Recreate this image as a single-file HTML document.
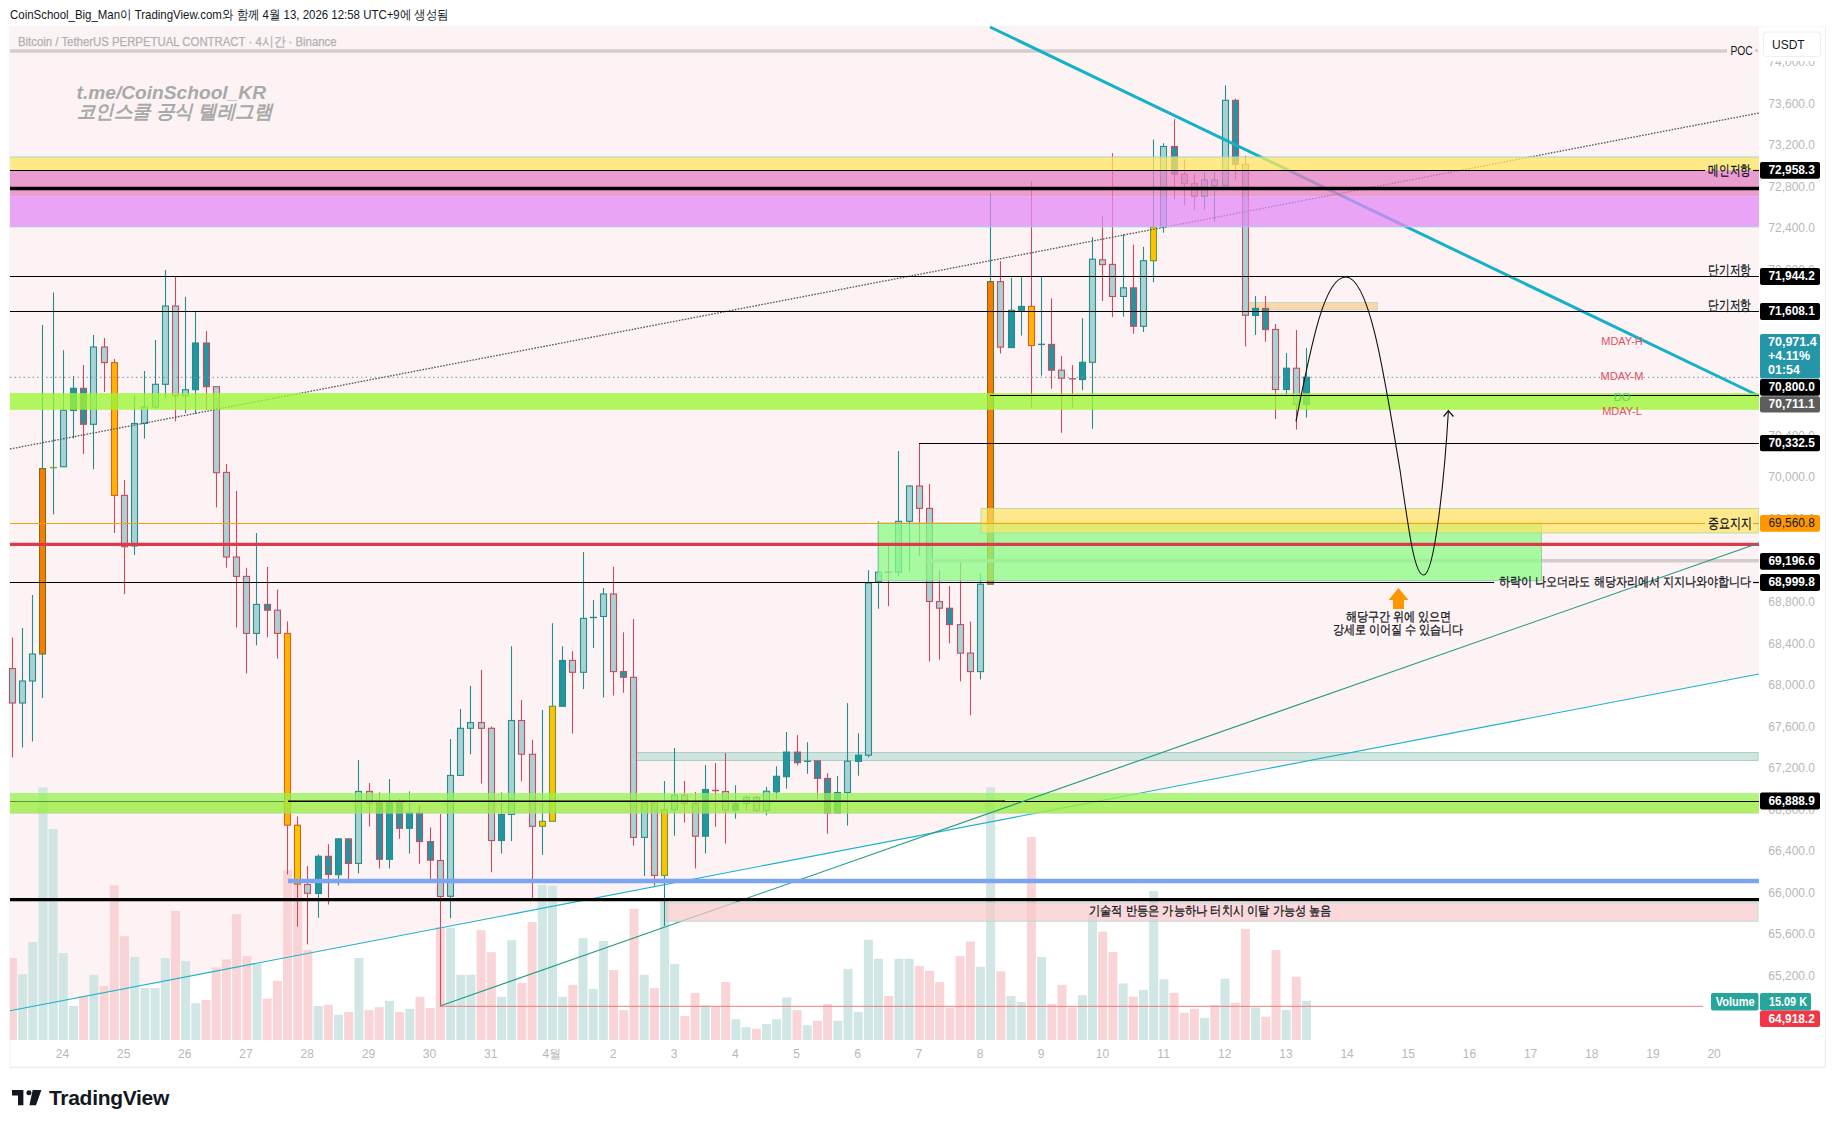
<!DOCTYPE html><html><head><meta charset="utf-8"><style>
html,body{margin:0;padding:0;background:#fff;}
body{width:1835px;height:1128px;overflow:hidden;position:relative;font-family:"Liberation Sans",sans-serif;}
svg{position:absolute;left:0;top:0;}
text{font-family:"Liberation Sans",sans-serif;}
</style></head><body>
<svg width="1835" height="1128" viewBox="0 0 1835 1128">
<text x="10" y="19.2" font-size="13" fill="#131722" textLength="438.7" lengthAdjust="spacingAndGlyphs" >CoinSchool_Big_Man이 TradingView.com와 함께 4월 13, 2026 12:58 UTC+9에 생성됨</text>
<rect x="10" y="27" width="1815" height="1040" fill="#fff" stroke="#f0f0f0" stroke-width="1"/>
<polygon points="10,27 1759,27 1759,674 10,1010.7" fill="#fdf3f4"/>
<line x1="1825.5" y1="27" x2="1825.5" y2="1067" stroke="#eeeeee"/>
<line x1="10" y1="1067.5" x2="1825" y2="1067.5" stroke="#eeeeee"/>
<g opacity="0.95"><rect x="10" y="958" width="6.9" height="82" fill="#f9d3d5"/><rect x="18.1" y="974.2" width="9" height="65.8" fill="#cfe6e4"/><rect x="28.3" y="942" width="9" height="98" fill="#cfe6e4"/><rect x="38.5" y="787.3" width="9" height="252.7" fill="#cfe6e4"/><rect x="48.7" y="829" width="9" height="211" fill="#cfe6e4"/><rect x="58.8" y="953" width="9" height="87" fill="#cfe6e4"/><rect x="69" y="1005.9" width="9" height="34.1" fill="#cfe6e4"/><rect x="79.2" y="996" width="9" height="44" fill="#f9d3d5"/><rect x="89.4" y="974.8" width="9" height="65.2" fill="#cfe6e4"/><rect x="99.6" y="986" width="9" height="54" fill="#f9d3d5"/><rect x="109.8" y="885.2" width="9" height="154.8" fill="#f9d3d5"/><rect x="120" y="936.2" width="9" height="103.8" fill="#f9d3d5"/><rect x="130.2" y="957" width="9" height="83" fill="#cfe6e4"/><rect x="140.4" y="988" width="9" height="52" fill="#cfe6e4"/><rect x="150.6" y="988" width="9" height="52" fill="#cfe6e4"/><rect x="160.8" y="958" width="9" height="82" fill="#cfe6e4"/><rect x="170.9" y="911" width="9" height="129" fill="#f9d3d5"/><rect x="181.1" y="961" width="9" height="79" fill="#cfe6e4"/><rect x="191.3" y="1003.2" width="9" height="36.8" fill="#cfe6e4"/><rect x="201.5" y="1000" width="9" height="40" fill="#f9d3d5"/><rect x="211.7" y="967.3" width="9" height="72.7" fill="#f9d3d5"/><rect x="221.9" y="959.4" width="9" height="80.6" fill="#f9d3d5"/><rect x="232.1" y="914.1" width="9" height="125.9" fill="#f9d3d5"/><rect x="242.3" y="956.2" width="9" height="83.8" fill="#f9d3d5"/><rect x="252.5" y="963.6" width="9" height="76.4" fill="#cfe6e4"/><rect x="262.6" y="998.7" width="9" height="41.3" fill="#f9d3d5"/><rect x="272.8" y="980.9" width="9" height="59.1" fill="#f9d3d5"/><rect x="283" y="870.3" width="9" height="169.7" fill="#f9d3d5"/><rect x="293.2" y="884" width="9" height="156" fill="#f9d3d5"/><rect x="303.4" y="950" width="9" height="90" fill="#f9d3d5"/><rect x="313.6" y="1005.9" width="9" height="34.1" fill="#cfe6e4"/><rect x="323.8" y="1004.8" width="9" height="35.2" fill="#f9d3d5"/><rect x="334" y="1014.7" width="9" height="25.3" fill="#cfe6e4"/><rect x="344.2" y="1012" width="9" height="28" fill="#f9d3d5"/><rect x="354.4" y="958" width="9" height="82" fill="#cfe6e4"/><rect x="364.5" y="1010.1" width="9" height="29.9" fill="#f9d3d5"/><rect x="374.7" y="1007.2" width="9" height="32.8" fill="#f9d3d5"/><rect x="384.9" y="1000.8" width="9" height="39.2" fill="#cfe6e4"/><rect x="395.1" y="1012" width="9" height="28" fill="#f9d3d5"/><rect x="405.3" y="1008.8" width="9" height="31.2" fill="#cfe6e4"/><rect x="415.5" y="996.8" width="9" height="43.2" fill="#f9d3d5"/><rect x="425.7" y="1008" width="9" height="32" fill="#f9d3d5"/><rect x="435.9" y="926.9" width="9" height="113.1" fill="#f9d3d5"/><rect x="446.1" y="927.7" width="9" height="112.3" fill="#cfe6e4"/><rect x="456.3" y="974.8" width="9" height="65.2" fill="#cfe6e4"/><rect x="466.4" y="974.8" width="9" height="65.2" fill="#cfe6e4"/><rect x="476.6" y="930.1" width="9" height="109.9" fill="#f9d3d5"/><rect x="486.8" y="952.2" width="9" height="87.8" fill="#f9d3d5"/><rect x="497" y="996.8" width="9" height="43.2" fill="#cfe6e4"/><rect x="507.2" y="940.2" width="9" height="99.8" fill="#cfe6e4"/><rect x="517.4" y="982.8" width="9" height="57.2" fill="#f9d3d5"/><rect x="527.6" y="922.1" width="9" height="117.9" fill="#f9d3d5"/><rect x="537.8" y="884.9" width="9" height="155.1" fill="#cfe6e4"/><rect x="548" y="885.7" width="9" height="154.3" fill="#cfe6e4"/><rect x="558.2" y="996.8" width="9" height="43.2" fill="#cfe6e4"/><rect x="568.3" y="984.9" width="9" height="55.1" fill="#f9d3d5"/><rect x="578.5" y="938.1" width="9" height="101.9" fill="#cfe6e4"/><rect x="588.7" y="988.9" width="9" height="51.1" fill="#cfe6e4"/><rect x="598.9" y="941" width="9" height="99" fill="#cfe6e4"/><rect x="609.1" y="970" width="9" height="70" fill="#f9d3d5"/><rect x="619.3" y="1010.1" width="9" height="29.9" fill="#f9d3d5"/><rect x="629.5" y="908.8" width="9" height="131.2" fill="#f9d3d5"/><rect x="639.7" y="974.8" width="9" height="65.2" fill="#cfe6e4"/><rect x="649.9" y="988" width="9" height="52" fill="#f9d3d5"/><rect x="660.1" y="901.6" width="9" height="138.4" fill="#cfe6e4"/><rect x="670.2" y="964.1" width="9" height="75.9" fill="#cfe6e4"/><rect x="680.4" y="1016" width="9" height="24" fill="#f9d3d5"/><rect x="690.6" y="992.9" width="9" height="47.1" fill="#f9d3d5"/><rect x="700.8" y="1005.4" width="9" height="34.6" fill="#cfe6e4"/><rect x="711" y="1006.2" width="9" height="33.8" fill="#f9d3d5"/><rect x="721.2" y="982" width="9" height="58" fill="#f9d3d5"/><rect x="731.4" y="1019.2" width="9" height="20.8" fill="#cfe6e4"/><rect x="741.6" y="1027.2" width="9" height="12.8" fill="#cfe6e4"/><rect x="751.8" y="1028.8" width="9" height="11.2" fill="#f9d3d5"/><rect x="762" y="1024" width="9" height="16" fill="#cfe6e4"/><rect x="772.1" y="1019.2" width="9" height="20.8" fill="#cfe6e4"/><rect x="782.3" y="997.4" width="9" height="42.6" fill="#cfe6e4"/><rect x="792.5" y="1010.1" width="9" height="29.9" fill="#f9d3d5"/><rect x="802.7" y="1025.3" width="9" height="14.7" fill="#cfe6e4"/><rect x="812.9" y="1020.8" width="9" height="19.2" fill="#f9d3d5"/><rect x="823.1" y="1004" width="9" height="36" fill="#f9d3d5"/><rect x="833.3" y="1020.8" width="9" height="19.2" fill="#cfe6e4"/><rect x="843.5" y="968.9" width="9" height="71.1" fill="#cfe6e4"/><rect x="853.7" y="1012" width="9" height="28" fill="#cfe6e4"/><rect x="863.9" y="939.7" width="9" height="100.3" fill="#cfe6e4"/><rect x="874" y="958.8" width="9" height="81.2" fill="#cfe6e4"/><rect x="884.2" y="996" width="9" height="44" fill="#f9d3d5"/><rect x="894.4" y="958.8" width="9" height="81.2" fill="#cfe6e4"/><rect x="904.6" y="958.8" width="9" height="81.2" fill="#cfe6e4"/><rect x="914.8" y="966" width="9" height="74" fill="#f9d3d5"/><rect x="925" y="970.8" width="9" height="69.2" fill="#f9d3d5"/><rect x="935.2" y="982" width="9" height="58" fill="#f9d3d5"/><rect x="945.4" y="1007.5" width="9" height="32.5" fill="#f9d3d5"/><rect x="955.6" y="956.2" width="9" height="83.8" fill="#f9d3d5"/><rect x="965.8" y="941.5" width="9" height="98.5" fill="#f9d3d5"/><rect x="975.9" y="966.8" width="9" height="73.2" fill="#cfe6e4"/><rect x="986.1" y="787.3" width="9" height="252.7" fill="#cfe6e4"/><rect x="996.3" y="971.3" width="9" height="68.7" fill="#f9d3d5"/><rect x="1006.5" y="996" width="9" height="44" fill="#cfe6e4"/><rect x="1016.7" y="1002.1" width="9" height="37.9" fill="#cfe6e4"/><rect x="1026.9" y="837" width="9" height="203" fill="#f9d3d5"/><rect x="1037.1" y="956.9" width="9" height="83.1" fill="#cfe6e4"/><rect x="1047.3" y="1004" width="9" height="36" fill="#f9d3d5"/><rect x="1057.5" y="984.8" width="9" height="55.2" fill="#f9d3d5"/><rect x="1067.7" y="1007.4" width="9" height="32.6" fill="#f9d3d5"/><rect x="1077.9" y="995.2" width="9" height="44.8" fill="#cfe6e4"/><rect x="1088" y="914.1" width="9" height="125.9" fill="#cfe6e4"/><rect x="1098.2" y="931.7" width="9" height="108.3" fill="#f9d3d5"/><rect x="1108.4" y="952.1" width="9" height="87.9" fill="#f9d3d5"/><rect x="1118.6" y="983.5" width="9" height="56.5" fill="#cfe6e4"/><rect x="1128.8" y="996.8" width="9" height="43.2" fill="#f9d3d5"/><rect x="1139" y="989.9" width="9" height="50.1" fill="#cfe6e4"/><rect x="1149.2" y="891" width="9" height="149" fill="#cfe6e4"/><rect x="1159.4" y="979.3" width="9" height="60.7" fill="#cfe6e4"/><rect x="1169.6" y="992.8" width="9" height="47.2" fill="#f9d3d5"/><rect x="1179.8" y="1012.8" width="9" height="27.2" fill="#f9d3d5"/><rect x="1189.9" y="1008.8" width="9" height="31.2" fill="#f9d3d5"/><rect x="1200.1" y="1017.8" width="9" height="22.2" fill="#cfe6e4"/><rect x="1210.3" y="1005.3" width="9" height="34.7" fill="#f9d3d5"/><rect x="1220.5" y="978.7" width="9" height="61.3" fill="#cfe6e4"/><rect x="1230.7" y="1002.7" width="9" height="37.3" fill="#f9d3d5"/><rect x="1240.9" y="929" width="9" height="111" fill="#f9d3d5"/><rect x="1251.1" y="1007.4" width="9" height="32.6" fill="#cfe6e4"/><rect x="1261.3" y="1016.7" width="9" height="23.3" fill="#f9d3d5"/><rect x="1271.5" y="950" width="9" height="90" fill="#f9d3d5"/><rect x="1281.7" y="1009.8" width="9" height="30.2" fill="#cfe6e4"/><rect x="1291.8" y="976.9" width="9" height="63.1" fill="#f9d3d5"/><rect x="1302" y="1000.8" width="9" height="39.2" fill="#cfe6e4"/></g>
<line x1="10" y1="51" x2="1727" y2="51" stroke="#d4cccd" stroke-width="3.5"/>
<text x="1730.5" y="54.8" font-size="12" fill="#131722" textLength="22.3" lengthAdjust="spacingAndGlyphs" >POC</text>
<rect x="1755" y="49" width="3" height="3" fill="#d4cccd"/>
<text x="18" y="45.6" font-size="12.5" fill="#b0b0b0" textLength="318.6" lengthAdjust="spacingAndGlyphs" stroke="#b0b0b0" stroke-width="0.25">Bitcoin / TetherUS PERPETUAL CONTRACT · 4시간 · Binance</text>
<g font-size="19" font-weight="bold" font-style="italic" fill="#a9a9a9">
<text x="76.5" y="99" textLength="189.5" lengthAdjust="spacingAndGlyphs">t.me/CoinSchool_KR</text>
<text x="76.5" y="117.5" textLength="196" lengthAdjust="spacingAndGlyphs">코인스쿨 공식 텔레그램</text>
</g>
<line x1="10" y1="801.5" x2="288" y2="801.5" stroke="#000" stroke-width="1.2"/>
<rect x="634" y="752.6" width="1124" height="7.8" fill="#c4e0da" fill-opacity="0.8" stroke="#9cc8bf" stroke-width="0.8"/>
<rect x="1245.3" y="302.4" width="132" height="7.6" fill="#fbcf98" fill-opacity="0.8" stroke="#b8d8c8" stroke-width="0.8"/>
<g><line x1="12.5" y1="637.5" x2="12.5" y2="757.5" stroke="#c84c60" stroke-width="1.1"/><rect x="9.5" y="668.5" width="6" height="34.5" fill="#a8d2d4" stroke="#c84c60" stroke-width="1.1"/><line x1="22.5" y1="628" x2="22.5" y2="747.5" stroke="#238e8a" stroke-width="1.1"/><rect x="19.5" y="681" width="6" height="22" fill="#a8d2d4" stroke="#238e8a" stroke-width="1.1"/><line x1="32.5" y1="595" x2="32.5" y2="741.5" stroke="#238e8a" stroke-width="1.1"/><rect x="29.5" y="654" width="6" height="27" fill="#a8d2d4" stroke="#238e8a" stroke-width="1.1"/><line x1="42.5" y1="325" x2="42.5" y2="698" stroke="#238e8a" stroke-width="1.1"/><rect x="39.5" y="468.6" width="6" height="185.4" fill="#ff7b00" stroke="#5c7a2a" stroke-width="1.1"/><line x1="53.5" y1="292.4" x2="53.5" y2="514.4" stroke="#238e8a" stroke-width="1.1"/><rect x="50" y="466.9" width="7" height="1.4" fill="#7aa83a"/><line x1="63.5" y1="350.3" x2="63.5" y2="466.8" stroke="#238e8a" stroke-width="1.1"/><rect x="60.5" y="410.2" width="6" height="56.6" fill="#a8d2d4" stroke="#238e8a" stroke-width="1.1"/><line x1="73.5" y1="376" x2="73.5" y2="438.5" stroke="#238e8a" stroke-width="1.1"/><rect x="70.5" y="388.3" width="6" height="22.2" fill="#2495a0" stroke="#238e8a" stroke-width="1.1"/><line x1="83.5" y1="365" x2="83.5" y2="454" stroke="#c84c60" stroke-width="1.1"/><rect x="80.5" y="388.3" width="6" height="36" fill="#2495a0" stroke="#c84c60" stroke-width="1.1"/><line x1="93.5" y1="335" x2="93.5" y2="469.4" stroke="#238e8a" stroke-width="1.1"/><rect x="90.5" y="347" width="6" height="77.3" fill="#a8d2d4" stroke="#238e8a" stroke-width="1.1"/><line x1="104.5" y1="338" x2="104.5" y2="392" stroke="#c84c60" stroke-width="1.1"/><rect x="101.5" y="347" width="6" height="15.6" fill="#a8d2d4" stroke="#c84c60" stroke-width="1.1"/><line x1="114.5" y1="359" x2="114.5" y2="533" stroke="#c84c60" stroke-width="1.1"/><rect x="111.5" y="362.6" width="6" height="132.8" fill="#ffb400" stroke="#d9602a" stroke-width="1.1"/><line x1="124.5" y1="480" x2="124.5" y2="594" stroke="#c84c60" stroke-width="1.1"/><rect x="121.5" y="495.4" width="6" height="51.3" fill="#a8d2d4" stroke="#c84c60" stroke-width="1.1"/><line x1="134.5" y1="395.8" x2="134.5" y2="555" stroke="#238e8a" stroke-width="1.1"/><rect x="131.5" y="423.5" width="6" height="122.5" fill="#a8d2d4" stroke="#238e8a" stroke-width="1.1"/><line x1="144.5" y1="371" x2="144.5" y2="438.6" stroke="#238e8a" stroke-width="1.1"/><rect x="141.5" y="407" width="6" height="16.5" fill="#a8d2d4" stroke="#238e8a" stroke-width="1.1"/><line x1="155.5" y1="340" x2="155.5" y2="409.4" stroke="#238e8a" stroke-width="1.1"/><rect x="152.5" y="384.3" width="6" height="22.7" fill="#a8d2d4" stroke="#238e8a" stroke-width="1.1"/><line x1="165.5" y1="270" x2="165.5" y2="398.8" stroke="#238e8a" stroke-width="1.1"/><rect x="162.5" y="306" width="6" height="78.3" fill="#a8d2d4" stroke="#238e8a" stroke-width="1.1"/><line x1="175.5" y1="276.6" x2="175.5" y2="421.4" stroke="#c84c60" stroke-width="1.1"/><rect x="172.5" y="306" width="6" height="89.8" fill="#a8d2d4" stroke="#c84c60" stroke-width="1.1"/><line x1="185.5" y1="296.8" x2="185.5" y2="413.3" stroke="#238e8a" stroke-width="1.1"/><rect x="182.5" y="389.7" width="6" height="6.1" fill="#a8d2d4" stroke="#238e8a" stroke-width="1.1"/><line x1="195.5" y1="312" x2="195.5" y2="413.9" stroke="#238e8a" stroke-width="1.1"/><rect x="192.5" y="343" width="6" height="46.7" fill="#2495a0" stroke="#238e8a" stroke-width="1.1"/><line x1="206.5" y1="331" x2="206.5" y2="410" stroke="#c84c60" stroke-width="1.1"/><rect x="203.5" y="343" width="6" height="43.7" fill="#2495a0" stroke="#c84c60" stroke-width="1.1"/><line x1="216.5" y1="386.7" x2="216.5" y2="507.4" stroke="#c84c60" stroke-width="1.1"/><rect x="213.5" y="386.7" width="6" height="86" fill="#a8d2d4" stroke="#c84c60" stroke-width="1.1"/><line x1="226.5" y1="464" x2="226.5" y2="567.7" stroke="#c84c60" stroke-width="1.1"/><rect x="223.5" y="472.4" width="6" height="84.6" fill="#a8d2d4" stroke="#c84c60" stroke-width="1.1"/><line x1="236.5" y1="491" x2="236.5" y2="627.5" stroke="#c84c60" stroke-width="1.1"/><rect x="233.5" y="557" width="6" height="19.4" fill="#a8d2d4" stroke="#c84c60" stroke-width="1.1"/><line x1="246.5" y1="567.7" x2="246.5" y2="673.5" stroke="#c84c60" stroke-width="1.1"/><rect x="243.5" y="576.4" width="6" height="57" fill="#a8d2d4" stroke="#c84c60" stroke-width="1.1"/><line x1="256.5" y1="533" x2="256.5" y2="645.3" stroke="#238e8a" stroke-width="1.1"/><rect x="253.5" y="604.4" width="6" height="29" fill="#a8d2d4" stroke="#238e8a" stroke-width="1.1"/><line x1="267.5" y1="567" x2="267.5" y2="637.3" stroke="#c84c60" stroke-width="1.1"/><rect x="264.5" y="604.4" width="6" height="5.8" fill="#2495a0" stroke="#c84c60" stroke-width="1.1"/><line x1="277.5" y1="589.5" x2="277.5" y2="658.6" stroke="#c84c60" stroke-width="1.1"/><rect x="274.5" y="610.2" width="6" height="23.2" fill="#a8d2d4" stroke="#c84c60" stroke-width="1.1"/><line x1="287.5" y1="621.4" x2="287.5" y2="874.4" stroke="#c84c60" stroke-width="1.1"/><rect x="284.5" y="633.4" width="6" height="191.8" fill="#ffb400" stroke="#d9602a" stroke-width="1.1"/><line x1="297.5" y1="816.4" x2="297.5" y2="926.7" stroke="#c84c60" stroke-width="1.1"/><rect x="294.5" y="825.2" width="6" height="58.9" fill="#ffc400" stroke="#c8641c" stroke-width="1.1"/><line x1="307.5" y1="866" x2="307.5" y2="944.4" stroke="#c84c60" stroke-width="1.1"/><rect x="304.5" y="884.5" width="6" height="8.8" fill="#a8d2d4" stroke="#c84c60" stroke-width="1.1"/><line x1="318.5" y1="854.3" x2="318.5" y2="917.8" stroke="#238e8a" stroke-width="1.1"/><rect x="315.5" y="856.3" width="6" height="37.2" fill="#2495a0" stroke="#238e8a" stroke-width="1.1"/><line x1="328.5" y1="844.2" x2="328.5" y2="904.5" stroke="#c84c60" stroke-width="1.1"/><rect x="325.5" y="856.3" width="6" height="18.1" fill="#2495a0" stroke="#c84c60" stroke-width="1.1"/><line x1="338.5" y1="838" x2="338.5" y2="885.5" stroke="#238e8a" stroke-width="1.1"/><rect x="335.5" y="838.9" width="6" height="35.8" fill="#2495a0" stroke="#238e8a" stroke-width="1.1"/><line x1="348.5" y1="838" x2="348.5" y2="883.2" stroke="#c84c60" stroke-width="1.1"/><rect x="345.5" y="838.9" width="6" height="24.5" fill="#2495a0" stroke="#c84c60" stroke-width="1.1"/><line x1="358.5" y1="760" x2="358.5" y2="873.5" stroke="#238e8a" stroke-width="1.1"/><rect x="355.5" y="791.4" width="6" height="72" fill="#a8d2d4" stroke="#238e8a" stroke-width="1.1"/><line x1="369.5" y1="783" x2="369.5" y2="826.5" stroke="#c84c60" stroke-width="1.1"/><rect x="366.5" y="791.4" width="6" height="11.6" fill="#a8d2d4" stroke="#c84c60" stroke-width="1.1"/><line x1="379.5" y1="792.3" x2="379.5" y2="868.5" stroke="#c84c60" stroke-width="1.1"/><rect x="376.5" y="802.6" width="6" height="56.7" fill="#2495a0" stroke="#c84c60" stroke-width="1.1"/><line x1="389.5" y1="779" x2="389.5" y2="868.5" stroke="#238e8a" stroke-width="1.1"/><rect x="386.5" y="802.6" width="6" height="56.7" fill="#2495a0" stroke="#238e8a" stroke-width="1.1"/><line x1="399.5" y1="799" x2="399.5" y2="838.9" stroke="#c84c60" stroke-width="1.1"/><rect x="396.5" y="802.6" width="6" height="25.7" fill="#2495a0" stroke="#c84c60" stroke-width="1.1"/><line x1="409.5" y1="791.4" x2="409.5" y2="853.6" stroke="#238e8a" stroke-width="1.1"/><rect x="406.5" y="812.7" width="6" height="15.6" fill="#2495a0" stroke="#238e8a" stroke-width="1.1"/><line x1="419.5" y1="805.7" x2="419.5" y2="863.7" stroke="#c84c60" stroke-width="1.1"/><rect x="416.5" y="812.7" width="6" height="28.9" fill="#2495a0" stroke="#c84c60" stroke-width="1.1"/><line x1="430.5" y1="827.4" x2="430.5" y2="881.5" stroke="#c84c60" stroke-width="1.1"/><rect x="427.5" y="841.6" width="6" height="18.6" fill="#2495a0" stroke="#c84c60" stroke-width="1.1"/><line x1="440.5" y1="814" x2="440.5" y2="1006" stroke="#c84c60" stroke-width="1.1"/><rect x="437.5" y="860.5" width="6" height="36" fill="#a8d2d4" stroke="#c84c60" stroke-width="1.1"/><line x1="450.5" y1="739" x2="450.5" y2="918.2" stroke="#238e8a" stroke-width="1.1"/><rect x="447.5" y="775.4" width="6" height="120.9" fill="#a8d2d4" stroke="#238e8a" stroke-width="1.1"/><line x1="460.5" y1="709" x2="460.5" y2="775.4" stroke="#238e8a" stroke-width="1.1"/><rect x="457.5" y="728.3" width="6" height="47.1" fill="#a8d2d4" stroke="#238e8a" stroke-width="1.1"/><line x1="470.5" y1="686" x2="470.5" y2="754.3" stroke="#238e8a" stroke-width="1.1"/><rect x="467.5" y="722.6" width="6" height="5.7" fill="#a8d2d4" stroke="#238e8a" stroke-width="1.1"/><line x1="481.5" y1="670" x2="481.5" y2="783.6" stroke="#c84c60" stroke-width="1.1"/><rect x="478.5" y="722.6" width="6" height="5.7" fill="#a8d2d4" stroke="#c84c60" stroke-width="1.1"/><line x1="491.5" y1="726.5" x2="491.5" y2="872.2" stroke="#c84c60" stroke-width="1.1"/><rect x="488.5" y="728.3" width="6" height="112.2" fill="#a8d2d4" stroke="#c84c60" stroke-width="1.1"/><line x1="501.5" y1="792.3" x2="501.5" y2="853.6" stroke="#238e8a" stroke-width="1.1"/><rect x="498.5" y="814.4" width="6" height="26.1" fill="#2495a0" stroke="#238e8a" stroke-width="1.1"/><line x1="511.5" y1="646.2" x2="511.5" y2="841.2" stroke="#238e8a" stroke-width="1.1"/><rect x="508.5" y="720.5" width="6" height="93.9" fill="#a8d2d4" stroke="#238e8a" stroke-width="1.1"/><line x1="521.5" y1="700.1" x2="521.5" y2="781.3" stroke="#c84c60" stroke-width="1.1"/><rect x="518.5" y="720.5" width="6" height="33.7" fill="#a8d2d4" stroke="#c84c60" stroke-width="1.1"/><line x1="532.5" y1="739.8" x2="532.5" y2="898" stroke="#c84c60" stroke-width="1.1"/><rect x="529.5" y="754.3" width="6" height="72" fill="#a8d2d4" stroke="#c84c60" stroke-width="1.1"/><line x1="542.5" y1="710" x2="542.5" y2="854.9" stroke="#238e8a" stroke-width="1.1"/><rect x="539.5" y="821.3" width="6" height="5" fill="#ffc400" stroke="#6a9a3a" stroke-width="1.1"/><line x1="552.5" y1="623.2" x2="552.5" y2="821.3" stroke="#238e8a" stroke-width="1.1"/><rect x="549.5" y="706.3" width="6" height="115" fill="#ffc400" stroke="#6a9a3a" stroke-width="1.1"/><line x1="562.5" y1="646.2" x2="562.5" y2="706.3" stroke="#238e8a" stroke-width="1.1"/><rect x="559.5" y="660.4" width="6" height="45.9" fill="#2495a0" stroke="#238e8a" stroke-width="1.1"/><line x1="572.5" y1="651.2" x2="572.5" y2="733.6" stroke="#c84c60" stroke-width="1.1"/><rect x="569.5" y="660.4" width="6" height="11.9" fill="#a8d2d4" stroke="#c84c60" stroke-width="1.1"/><line x1="583.5" y1="552" x2="583.5" y2="689" stroke="#238e8a" stroke-width="1.1"/><rect x="580.5" y="618.4" width="6" height="53.9" fill="#a8d2d4" stroke="#238e8a" stroke-width="1.1"/><line x1="593.5" y1="600" x2="593.5" y2="648" stroke="#238e8a" stroke-width="1.1"/><rect x="590" y="616.8" width="7" height="1.4" fill="#238e8a"/><line x1="603.5" y1="588" x2="603.5" y2="697.6" stroke="#238e8a" stroke-width="1.1"/><rect x="600.5" y="594" width="6" height="22.5" fill="#a8d2d4" stroke="#238e8a" stroke-width="1.1"/><line x1="613.5" y1="566.8" x2="613.5" y2="695.6" stroke="#c84c60" stroke-width="1.1"/><rect x="610.5" y="594" width="6" height="77.6" fill="#a8d2d4" stroke="#c84c60" stroke-width="1.1"/><line x1="623.5" y1="632.3" x2="623.5" y2="692.7" stroke="#c84c60" stroke-width="1.1"/><rect x="620.5" y="671.6" width="6" height="5.7" fill="#2495a0" stroke="#c84c60" stroke-width="1.1"/><line x1="633.5" y1="619" x2="633.5" y2="845.6" stroke="#c84c60" stroke-width="1.1"/><rect x="630.5" y="677.3" width="6" height="160.1" fill="#a8d2d4" stroke="#c84c60" stroke-width="1.1"/><line x1="644.5" y1="802.7" x2="644.5" y2="875.9" stroke="#238e8a" stroke-width="1.1"/><rect x="641.5" y="802.7" width="6" height="34.7" fill="#a8d2d4" stroke="#238e8a" stroke-width="1.1"/><line x1="654.5" y1="802.7" x2="654.5" y2="885.8" stroke="#c84c60" stroke-width="1.1"/><rect x="651.5" y="802.7" width="6" height="72.7" fill="#a8d2d4" stroke="#c84c60" stroke-width="1.1"/><line x1="664.5" y1="781" x2="664.5" y2="926" stroke="#238e8a" stroke-width="1.1"/><rect x="661.5" y="809.6" width="6" height="65.8" fill="#ffc400" stroke="#6a9a3a" stroke-width="1.1"/><line x1="674.5" y1="748" x2="674.5" y2="835.7" stroke="#238e8a" stroke-width="1.1"/><rect x="671.5" y="795.2" width="6" height="14.4" fill="#a8d2d4" stroke="#238e8a" stroke-width="1.1"/><line x1="684.5" y1="781" x2="684.5" y2="822.5" stroke="#c84c60" stroke-width="1.1"/><rect x="681.5" y="795.2" width="6" height="8.2" fill="#a8d2d4" stroke="#c84c60" stroke-width="1.1"/><line x1="695.5" y1="792" x2="695.5" y2="868.4" stroke="#c84c60" stroke-width="1.1"/><rect x="692.5" y="803.4" width="6" height="32.8" fill="#a8d2d4" stroke="#c84c60" stroke-width="1.1"/><line x1="705.5" y1="765" x2="705.5" y2="853.5" stroke="#238e8a" stroke-width="1.1"/><rect x="702.5" y="789.5" width="6" height="46.7" fill="#2495a0" stroke="#238e8a" stroke-width="1.1"/><line x1="715.5" y1="763" x2="715.5" y2="826.7" stroke="#c84c60" stroke-width="1.1"/><rect x="712" y="789.8" width="7" height="1.4" fill="#c84c60"/><line x1="725.5" y1="753" x2="725.5" y2="843.6" stroke="#c84c60" stroke-width="1.1"/><rect x="722.5" y="791.5" width="6" height="18.6" fill="#a8d2d4" stroke="#c84c60" stroke-width="1.1"/><line x1="735.5" y1="785.3" x2="735.5" y2="818.8" stroke="#238e8a" stroke-width="1.1"/><rect x="732.5" y="803.9" width="6" height="6.2" fill="#2495a0" stroke="#238e8a" stroke-width="1.1"/><line x1="746.5" y1="795.6" x2="746.5" y2="810.5" stroke="#238e8a" stroke-width="1.1"/><rect x="743.5" y="797.4" width="6" height="6.2" fill="#a8d2d4" stroke="#238e8a" stroke-width="1.1"/><line x1="756.5" y1="796" x2="756.5" y2="812.3" stroke="#c84c60" stroke-width="1.1"/><rect x="753.5" y="797.4" width="6" height="13.1" fill="#a8d2d4" stroke="#c84c60" stroke-width="1.1"/><line x1="766.5" y1="786.9" x2="766.5" y2="815.4" stroke="#238e8a" stroke-width="1.1"/><rect x="763.5" y="791.2" width="6" height="19.3" fill="#a8d2d4" stroke="#238e8a" stroke-width="1.1"/><line x1="776.5" y1="766.4" x2="776.5" y2="799.3" stroke="#238e8a" stroke-width="1.1"/><rect x="773.5" y="776.3" width="6" height="15.5" fill="#2495a0" stroke="#238e8a" stroke-width="1.1"/><line x1="786.5" y1="732" x2="786.5" y2="788.7" stroke="#238e8a" stroke-width="1.1"/><rect x="783.5" y="752.1" width="6" height="24.6" fill="#2495a0" stroke="#238e8a" stroke-width="1.1"/><line x1="797.5" y1="735.1" x2="797.5" y2="765.5" stroke="#c84c60" stroke-width="1.1"/><rect x="794.5" y="752.1" width="6" height="10.6" fill="#2495a0" stroke="#c84c60" stroke-width="1.1"/><line x1="807.5" y1="742.2" x2="807.5" y2="773.8" stroke="#238e8a" stroke-width="1.1"/><rect x="804" y="760.6" width="7" height="1.4" fill="#238e8a"/><line x1="817.5" y1="760.8" x2="817.5" y2="799.3" stroke="#c84c60" stroke-width="1.1"/><rect x="814.5" y="760.8" width="6" height="17.6" fill="#2495a0" stroke="#c84c60" stroke-width="1.1"/><line x1="827.5" y1="773.2" x2="827.5" y2="833.8" stroke="#c84c60" stroke-width="1.1"/><rect x="824.5" y="778.4" width="6" height="34.6" fill="#2495a0" stroke="#c84c60" stroke-width="1.1"/><line x1="837.5" y1="776" x2="837.5" y2="813" stroke="#238e8a" stroke-width="1.1"/><rect x="834.5" y="792.5" width="6" height="20.5" fill="#2495a0" stroke="#238e8a" stroke-width="1.1"/><line x1="847.5" y1="703.1" x2="847.5" y2="825.6" stroke="#238e8a" stroke-width="1.1"/><rect x="844.5" y="761.2" width="6" height="31.3" fill="#a8d2d4" stroke="#238e8a" stroke-width="1.1"/><line x1="858.5" y1="733.3" x2="858.5" y2="775.7" stroke="#238e8a" stroke-width="1.1"/><rect x="855.5" y="755.2" width="6" height="6.2" fill="#2495a0" stroke="#238e8a" stroke-width="1.1"/><line x1="868.5" y1="570.1" x2="868.5" y2="757.3" stroke="#238e8a" stroke-width="1.1"/><rect x="865.5" y="583" width="6" height="172.2" fill="#a8d2d4" stroke="#238e8a" stroke-width="1.1"/><line x1="878.5" y1="521.3" x2="878.5" y2="608.7" stroke="#238e8a" stroke-width="1.1"/><rect x="875.5" y="572.2" width="6" height="9.5" fill="#a8d2d4" stroke="#238e8a" stroke-width="1.1"/><line x1="888.5" y1="545.7" x2="888.5" y2="606.1" stroke="#c84c60" stroke-width="1.1"/><rect x="885" y="571.5" width="7" height="1.4" fill="#c84c60"/><line x1="898.5" y1="451" x2="898.5" y2="576.5" stroke="#238e8a" stroke-width="1.1"/><rect x="895.5" y="521.3" width="6" height="50.9" fill="#a8d2d4" stroke="#238e8a" stroke-width="1.1"/><line x1="909.5" y1="485.3" x2="909.5" y2="571.4" stroke="#238e8a" stroke-width="1.1"/><rect x="906.5" y="486" width="6" height="35.3" fill="#a8d2d4" stroke="#238e8a" stroke-width="1.1"/><line x1="919.5" y1="443.4" x2="919.5" y2="556" stroke="#c84c60" stroke-width="1.1"/><rect x="916.5" y="486" width="6" height="22.4" fill="#a8d2d4" stroke="#c84c60" stroke-width="1.1"/><line x1="929.5" y1="484" x2="929.5" y2="661.4" stroke="#c84c60" stroke-width="1.1"/><rect x="926.5" y="508.4" width="6" height="93.1" fill="#a8d2d4" stroke="#c84c60" stroke-width="1.1"/><line x1="939.5" y1="570.1" x2="939.5" y2="659.6" stroke="#c84c60" stroke-width="1.1"/><rect x="936.5" y="601.5" width="6" height="6.7" fill="#a8d2d4" stroke="#c84c60" stroke-width="1.1"/><line x1="949.5" y1="586" x2="949.5" y2="643.4" stroke="#c84c60" stroke-width="1.1"/><rect x="946.5" y="608.2" width="6" height="16.4" fill="#2495a0" stroke="#c84c60" stroke-width="1.1"/><line x1="960.5" y1="559.8" x2="960.5" y2="681.4" stroke="#c84c60" stroke-width="1.1"/><rect x="957.5" y="624.6" width="6" height="28.5" fill="#a8d2d4" stroke="#c84c60" stroke-width="1.1"/><line x1="970.5" y1="621.5" x2="970.5" y2="715.3" stroke="#c84c60" stroke-width="1.1"/><rect x="967.5" y="653.1" width="6" height="18.5" fill="#a8d2d4" stroke="#c84c60" stroke-width="1.1"/><line x1="980.5" y1="574" x2="980.5" y2="679.4" stroke="#238e8a" stroke-width="1.1"/><rect x="977.5" y="584.2" width="6" height="87.4" fill="#a8d2d4" stroke="#238e8a" stroke-width="1.1"/><line x1="990.5" y1="193.2" x2="990.5" y2="584.2" stroke="#238e8a" stroke-width="1.1"/><rect x="987.5" y="281.6" width="6" height="302.6" fill="#ff7b00" stroke="#5c7a2a" stroke-width="1.1"/><line x1="1000.5" y1="261.1" x2="1000.5" y2="353.5" stroke="#c84c60" stroke-width="1.1"/><rect x="997.5" y="281.6" width="6" height="65.5" fill="#a8d2d4" stroke="#c84c60" stroke-width="1.1"/><line x1="1011.5" y1="277.9" x2="1011.5" y2="347.6" stroke="#238e8a" stroke-width="1.1"/><rect x="1008.5" y="310.3" width="6" height="37.3" fill="#2495a0" stroke="#238e8a" stroke-width="1.1"/><line x1="1021.5" y1="277.1" x2="1021.5" y2="335.6" stroke="#238e8a" stroke-width="1.1"/><rect x="1018.5" y="306.4" width="6" height="3.9" fill="#2495a0" stroke="#238e8a" stroke-width="1.1"/><line x1="1031.5" y1="181.3" x2="1031.5" y2="407.5" stroke="#c84c60" stroke-width="1.1"/><rect x="1028.5" y="306.4" width="6" height="39.1" fill="#ffb400" stroke="#d9602a" stroke-width="1.1"/><line x1="1041.5" y1="277.1" x2="1041.5" y2="375.6" stroke="#238e8a" stroke-width="1.1"/><rect x="1038" y="343.7" width="7" height="1.4" fill="#238e8a"/><line x1="1051.5" y1="298.4" x2="1051.5" y2="388.9" stroke="#c84c60" stroke-width="1.1"/><rect x="1048.5" y="344.4" width="6" height="25.8" fill="#2495a0" stroke="#c84c60" stroke-width="1.1"/><line x1="1061.5" y1="356.1" x2="1061.5" y2="432.8" stroke="#c84c60" stroke-width="1.1"/><rect x="1058.5" y="370.2" width="6" height="8" fill="#a8d2d4" stroke="#c84c60" stroke-width="1.1"/><line x1="1072.5" y1="365" x2="1072.5" y2="407.5" stroke="#c84c60" stroke-width="1.1"/><rect x="1069" y="378.1" width="7" height="1.4" fill="#c84c60"/><line x1="1082.5" y1="318.3" x2="1082.5" y2="390.2" stroke="#238e8a" stroke-width="1.1"/><rect x="1079.5" y="362.3" width="6" height="17.3" fill="#2495a0" stroke="#238e8a" stroke-width="1.1"/><line x1="1092.5" y1="237.2" x2="1092.5" y2="428.8" stroke="#238e8a" stroke-width="1.1"/><rect x="1089.5" y="259.2" width="6" height="103.1" fill="#a8d2d4" stroke="#238e8a" stroke-width="1.1"/><line x1="1102.5" y1="216" x2="1102.5" y2="301" stroke="#c84c60" stroke-width="1.1"/><rect x="1099.5" y="259.8" width="6" height="4.8" fill="#a8d2d4" stroke="#c84c60" stroke-width="1.1"/><line x1="1112.5" y1="153.2" x2="1112.5" y2="317.1" stroke="#c84c60" stroke-width="1.1"/><rect x="1109.5" y="264.4" width="6" height="32.1" fill="#a8d2d4" stroke="#c84c60" stroke-width="1.1"/><line x1="1123.5" y1="233.9" x2="1123.5" y2="316.6" stroke="#238e8a" stroke-width="1.1"/><rect x="1120.5" y="287.8" width="6" height="8.7" fill="#a8d2d4" stroke="#238e8a" stroke-width="1.1"/><line x1="1133.5" y1="244.6" x2="1133.5" y2="333.7" stroke="#c84c60" stroke-width="1.1"/><rect x="1130.5" y="287.8" width="6" height="38.5" fill="#2495a0" stroke="#c84c60" stroke-width="1.1"/><line x1="1143.5" y1="246.8" x2="1143.5" y2="332" stroke="#238e8a" stroke-width="1.1"/><rect x="1140.5" y="260.7" width="6" height="65.6" fill="#a8d2d4" stroke="#238e8a" stroke-width="1.1"/><line x1="1153.5" y1="139.5" x2="1153.5" y2="282.3" stroke="#238e8a" stroke-width="1.1"/><rect x="1150.5" y="227" width="6" height="33.7" fill="#ffc400" stroke="#6a9a3a" stroke-width="1.1"/><line x1="1163.5" y1="143.3" x2="1163.5" y2="232.7" stroke="#238e8a" stroke-width="1.1"/><rect x="1160.5" y="146.5" width="6" height="80.5" fill="#a8d2d4" stroke="#238e8a" stroke-width="1.1"/><line x1="1174.5" y1="119.2" x2="1174.5" y2="199.1" stroke="#c84c60" stroke-width="1.1"/><rect x="1171.5" y="146.5" width="6" height="27.8" fill="#2495a0" stroke="#c84c60" stroke-width="1.1"/><line x1="1184.5" y1="159.4" x2="1184.5" y2="205.3" stroke="#c84c60" stroke-width="1.1"/><rect x="1181.5" y="174.3" width="6" height="9.4" fill="#a8d2d4" stroke="#c84c60" stroke-width="1.1"/><line x1="1194.5" y1="174.3" x2="1194.5" y2="210.3" stroke="#c84c60" stroke-width="1.1"/><rect x="1191.5" y="183.7" width="6" height="12.5" fill="#a8d2d4" stroke="#c84c60" stroke-width="1.1"/><line x1="1204.5" y1="171.8" x2="1204.5" y2="209.8" stroke="#238e8a" stroke-width="1.1"/><rect x="1201.5" y="180" width="6" height="16.2" fill="#a8d2d4" stroke="#238e8a" stroke-width="1.1"/><line x1="1214.5" y1="171.8" x2="1214.5" y2="221.5" stroke="#238e8a" stroke-width="1.1"/><rect x="1211.5" y="180" width="6" height="5.5" fill="#a8d2d4" stroke="#238e8a" stroke-width="1.1"/><line x1="1225.5" y1="85.4" x2="1225.5" y2="185.5" stroke="#238e8a" stroke-width="1.1"/><rect x="1222.5" y="100.3" width="6" height="85.2" fill="#a8d2d4" stroke="#238e8a" stroke-width="1.1"/><line x1="1235.5" y1="98.6" x2="1235.5" y2="179.3" stroke="#c84c60" stroke-width="1.1"/><rect x="1232.5" y="100.3" width="6" height="64.1" fill="#2495a0" stroke="#c84c60" stroke-width="1.1"/><line x1="1245.5" y1="155.7" x2="1245.5" y2="346.5" stroke="#c84c60" stroke-width="1.1"/><rect x="1242.5" y="164.4" width="6" height="150.9" fill="#a8d2d4" stroke="#c84c60" stroke-width="1.1"/><line x1="1255.5" y1="295.9" x2="1255.5" y2="335" stroke="#238e8a" stroke-width="1.1"/><rect x="1252.5" y="308.4" width="6" height="7.1" fill="#2495a0" stroke="#238e8a" stroke-width="1.1"/><line x1="1265.5" y1="295.9" x2="1265.5" y2="341.7" stroke="#c84c60" stroke-width="1.1"/><rect x="1262.5" y="308.4" width="6" height="21.2" fill="#2495a0" stroke="#c84c60" stroke-width="1.1"/><line x1="1275.5" y1="324" x2="1275.5" y2="419" stroke="#c84c60" stroke-width="1.1"/><rect x="1272.5" y="329.4" width="6" height="60.1" fill="#a8d2d4" stroke="#c84c60" stroke-width="1.1"/><line x1="1286.5" y1="353" x2="1286.5" y2="395.6" stroke="#238e8a" stroke-width="1.1"/><rect x="1283.5" y="368.2" width="6" height="21.3" fill="#2495a0" stroke="#238e8a" stroke-width="1.1"/><line x1="1296.5" y1="330" x2="1296.5" y2="429.6" stroke="#c84c60" stroke-width="1.1"/><rect x="1293.5" y="368.2" width="6" height="36.3" fill="#a8d2d4" stroke="#c84c60" stroke-width="1.1"/><line x1="1306.5" y1="348" x2="1306.5" y2="417.6" stroke="#238e8a" stroke-width="1.1"/><rect x="1303.5" y="377.2" width="6" height="27.3" fill="#2495a0" stroke="#238e8a" stroke-width="1.1"/></g>
<line x1="990" y1="27" x2="1759" y2="396" stroke="#14b1c8" stroke-width="3"/>
<line x1="10" y1="449" x2="1759" y2="113" stroke="#555" stroke-width="1.3" stroke-dasharray="1.6 1.4"/>
<rect x="10" y="157" width="1749" height="13.3" fill="#ffe763" fill-opacity="0.75"/>
<line x1="10" y1="157" x2="1759" y2="157" stroke="#9fd6d0" stroke-width="1"/>
<rect x="10" y="170.3" width="1749" height="26.1" fill="#e580c3" fill-opacity="0.75"/>
<rect x="10" y="196.4" width="1749" height="30.4" fill="#e28af5" fill-opacity="0.75"/>
<line x1="10" y1="226.8" x2="1759" y2="226.8" stroke="#a8c8e8" stroke-width="1"/>
<line x1="10" y1="170.5" x2="1705" y2="170.5" stroke="#000" stroke-width="1.2"/>
<line x1="1753" y1="170.5" x2="1759" y2="170.5" stroke="#000" stroke-width="1.2"/>
<line x1="10" y1="188.5" x2="1759" y2="188.5" stroke="#000" stroke-width="3.4"/>
<line x1="10" y1="276.5" x2="1759" y2="276.5" stroke="#000" stroke-width="1.2"/>
<line x1="10" y1="311.5" x2="1759" y2="311.5" stroke="#000" stroke-width="1.2"/>
<line x1="10" y1="377.3" x2="1759" y2="377.3" stroke="#5f9ea0" stroke-width="1" stroke-dasharray="1.5 3"/>
<rect x="10" y="393.1" width="1749" height="16.7" fill="#9ef53a" fill-opacity="0.8"/>
<line x1="990" y1="395.5" x2="1759" y2="395.5" stroke="#000" stroke-width="1.2"/>
<line x1="919" y1="443.5" x2="1759" y2="443.5" stroke="#000" stroke-width="1.2"/>
<line x1="925" y1="560.8" x2="1759" y2="560.8" stroke="#cfc6c7" stroke-width="3.4" stroke-opacity="0.9"/>
<rect x="878" y="523" width="663.6" height="57.8" fill="#89fc84" fill-opacity="0.75" stroke="#8cc8a8" stroke-width="0.8"/>
<rect x="981" y="508.5" width="778" height="24.5" fill="#ffe45a" fill-opacity="0.68" stroke="#a8d8a0" stroke-width="0.8"/>
<line x1="10" y1="523.5" x2="1705" y2="523.5" stroke="#f2a10a" stroke-width="1.2"/>
<line x1="1753" y1="523.5" x2="1759" y2="523.5" stroke="#f2a10a" stroke-width="1.2"/>
<line x1="10" y1="544.3" x2="1759" y2="544.3" stroke="#dd3a4e" stroke-width="3.2"/>
<line x1="10" y1="582.5" x2="1494" y2="582.5" stroke="#000" stroke-width="1.2"/>
<line x1="1753" y1="582.5" x2="1759" y2="582.5" stroke="#000" stroke-width="1.2"/>
<line x1="10" y1="1010.7" x2="1759" y2="674" stroke="#1ab3cc" stroke-width="1.1"/>
<rect x="10" y="793" width="1749" height="8.5" fill="#96f353" fill-opacity="0.75"/>
<rect x="10" y="801.5" width="1749" height="11.5" fill="#9cec42" fill-opacity="0.8"/>
<line x1="10" y1="813.2" x2="1759" y2="813.2" stroke="#a8d8a0" stroke-width="0.8"/>
<line x1="288" y1="801.5" x2="1759" y2="801.5" stroke="#000" stroke-width="1.2"/>
<line x1="288" y1="801.2" x2="1005" y2="801.2" stroke="#000" stroke-width="1.4"/>
<line x1="440" y1="1006" x2="1759" y2="543" stroke="#1f9a80" stroke-width="1.1"/>
<line x1="288" y1="881" x2="1759" y2="881" stroke="#7ba5f2" stroke-width="4.6"/>
<line x1="10" y1="899.6" x2="1759" y2="899.6" stroke="#000" stroke-width="3.2"/>
<rect x="666" y="902.8" width="1092" height="18.4" fill="#f9c9cc" fill-opacity="0.7" stroke="#b4d4cc" stroke-width="0.8"/>
<text x="1089" y="915.2" font-size="13" fill="#131722" textLength="242.7" lengthAdjust="spacingAndGlyphs" stroke="#131722" stroke-width="0.3">기술적 반등은 가능하나 터치시 이탈 가능성 높음</text>
<line x1="440" y1="1006.3" x2="1703" y2="1006.3" stroke="#e58080" stroke-width="1"/>
<path d="M1296,421.3 C1312,340 1325,277 1345.6,277 C1370,277 1385,380 1400,470 C1410,540 1415,575 1423.6,575 C1435,575 1445,470 1448.4,410.7" fill="none" stroke="#111" stroke-width="1.1"/>
<polyline points="1443.6,416.5 1448.4,410.7 1453.4,416.5" fill="none" stroke="#111" stroke-width="1.3"/>
<polygon points="1398.5,588 1408.5,600 1404,600 1404,609 1393,609 1393,600 1388.5,600" fill="#ff9800"/>
<text x="1345.6" y="620.8" font-size="12.5" fill="#131722" textLength="105.4" lengthAdjust="spacingAndGlyphs" stroke="#131722" stroke-width="0.3">해당구간 위에 있으면</text>
<text x="1332.5" y="633.9" font-size="12.5" fill="#131722" textLength="130.5" lengthAdjust="spacingAndGlyphs" stroke="#131722" stroke-width="0.3">강세로 이어질 수 있습니다</text>
<text x="1708.3" y="175" font-size="14" fill="#131722" textLength="42.5" lengthAdjust="spacingAndGlyphs" stroke="#131722" stroke-width="0.3">메인저항</text>
<text x="1708.3" y="275.3" font-size="14" fill="#131722" textLength="42.5" lengthAdjust="spacingAndGlyphs" stroke="#131722" stroke-width="0.3">단기저항</text>
<text x="1708.3" y="310" font-size="14" fill="#131722" textLength="42.5" lengthAdjust="spacingAndGlyphs" stroke="#131722" stroke-width="0.3">단기저항</text>
<text x="1707.6" y="528" font-size="14" fill="#131722" textLength="43.9" lengthAdjust="spacingAndGlyphs" stroke="#131722" stroke-width="0.3">중요지지</text>
<text x="1499" y="586.4" font-size="13" fill="#131722" textLength="252.5" lengthAdjust="spacingAndGlyphs" stroke="#131722" stroke-width="0.3">하락이 나오더라도 해당자리에서 지지나와야합니다</text>
<g font-size="11" fill="#e0515f" text-anchor="middle">
<text x="1622" y="344.5">MDAY-H</text>
<text x="1622" y="379.5">MDAY-M</text>
<text x="1622" y="415">MDAY-L</text>
</g>
<text x="1622" y="400.5" font-size="11" fill="#5cd65c" text-anchor="middle">DO</text>
<rect x="1759" y="27" width="66" height="1013" fill="#fff"/>
<g font-size="12" fill="#b8b8b8" text-anchor="end">
<text x="1815" y="66.1">74,000.0</text>
<text x="1815" y="107.6">73,600.0</text>
<text x="1815" y="149.1">73,200.0</text>
<text x="1815" y="190.7">72,800.0</text>
<text x="1815" y="232.2">72,400.0</text>
<text x="1815" y="273.7">72,000.0</text>
<text x="1815" y="315.2">71,600.0</text>
<text x="1815" y="356.8">71,200.0</text>
<text x="1815" y="398.3">70,800.0</text>
<text x="1815" y="439.8">70,400.0</text>
<text x="1815" y="481.4">70,000.0</text>
<text x="1815" y="522.9">69,600.0</text>
<text x="1815" y="564.4">69,200.0</text>
<text x="1815" y="605.9">68,800.0</text>
<text x="1815" y="647.5">68,400.0</text>
<text x="1815" y="689">68,000.0</text>
<text x="1815" y="730.5">67,600.0</text>
<text x="1815" y="772">67,200.0</text>
<text x="1815" y="813.6">66,800.0</text>
<text x="1815" y="855.1">66,400.0</text>
<text x="1815" y="896.6">66,000.0</text>
<text x="1815" y="938.2">65,600.0</text>
<text x="1815" y="979.7">65,200.0</text>
</g>
<rect x="1760" y="30" width="64" height="31" fill="#fff"/>
<rect x="1763.5" y="32" width="57" height="24.5" rx="3" fill="#fff" stroke="#eeeeee"/>
<text x="1772" y="48.5" font-size="12" fill="#131722">USDT</text>
<rect x="1760" y="161.9" width="60" height="16.9" rx="2" fill="#000"/>
<text x="1768.5" y="174.3" font-size="12.5" font-weight="bold" fill="#fff" textLength="46.3" lengthAdjust="spacingAndGlyphs">72,958.3</text>
<rect x="1760" y="268" width="60" height="17" rx="2" fill="#000"/>
<text x="1768.5" y="280.4" font-size="12.5" font-weight="bold" fill="#fff" textLength="46.3" lengthAdjust="spacingAndGlyphs">71,944.2</text>
<rect x="1760" y="303" width="60" height="17" rx="2" fill="#000"/>
<text x="1768.5" y="315.4" font-size="12.5" font-weight="bold" fill="#fff" textLength="46.3" lengthAdjust="spacingAndGlyphs">71,608.1</text>
<rect x="1760" y="333.9" width="60" height="44.5" rx="2" fill="#2596a8"/>
<g font-size="12.5" font-weight="bold" fill="#fff" text-anchor="start">
<text x="1768" y="346">70,971.4</text>
<text x="1768" y="360">+4.11%</text>
<text x="1768" y="374">01:54</text>
</g>
<rect x="1760" y="379" width="60" height="16.7" rx="2" fill="#000"/>
<text x="1768.5" y="391.2" font-size="12.5" font-weight="bold" fill="#fff" textLength="46.3" lengthAdjust="spacingAndGlyphs">70,800.0</text>
<rect x="1760" y="396.2" width="60" height="16.2" rx="2" fill="#5d5d5d"/>
<text x="1768.5" y="408.2" font-size="12.5" font-weight="bold" fill="#fff" textLength="46.3" lengthAdjust="spacingAndGlyphs">70,711.1</text>
<rect x="1760" y="435" width="60" height="16.3" rx="2" fill="#000"/>
<text x="1768.5" y="447" font-size="12.5" font-weight="bold" fill="#fff" textLength="46.3" lengthAdjust="spacingAndGlyphs">70,332.5</text>
<rect x="1760" y="515.1" width="60" height="16.7" rx="2" fill="#ff9800"/>
<text x="1768.5" y="527.4" font-size="12.5" font-weight="normal" fill="#131722" textLength="46.3" lengthAdjust="spacingAndGlyphs">69,560.8</text>
<rect x="1760" y="553" width="60" height="16.8" rx="2" fill="#000"/>
<text x="1768.5" y="565.3" font-size="12.5" font-weight="bold" fill="#fff" textLength="46.3" lengthAdjust="spacingAndGlyphs">69,196.6</text>
<rect x="1760" y="574" width="60" height="16.9" rx="2" fill="#000"/>
<text x="1768.5" y="586.4" font-size="12.5" font-weight="bold" fill="#fff" textLength="46.3" lengthAdjust="spacingAndGlyphs">68,999.8</text>
<rect x="1760" y="792.5" width="60" height="17" rx="2" fill="#000"/>
<text x="1768.5" y="804.9" font-size="12.5" font-weight="bold" fill="#fff" textLength="46.3" lengthAdjust="spacingAndGlyphs">66,888.9</text>
<rect x="1711" y="993" width="47.5" height="17.5" rx="2" fill="#26a69a"/>
<text x="1715.7" y="1005.8" font-size="12.5" font-weight="bold" fill="#fff" textLength="39" lengthAdjust="spacingAndGlyphs">Volume</text>
<rect x="1760" y="993" width="51" height="17.5" rx="2" fill="#26a69a"/>
<text x="1769" y="1005.8" font-size="12.5" font-weight="bold" fill="#fff" textLength="38" lengthAdjust="spacingAndGlyphs">15.09 K</text>
<rect x="1760" y="1010.5" width="60" height="16.5" rx="2" fill="#f23645"/>
<text x="1768.5" y="1022.6" font-size="12.5" font-weight="bold" fill="#fff" textLength="46.3" lengthAdjust="spacingAndGlyphs">64,918.2</text>
<g font-size="12" fill="#b8b8b8" text-anchor="middle">
<text x="62.5" y="1058">24</text>
<text x="123.7" y="1058">25</text>
<text x="184.8" y="1058">26</text>
<text x="246" y="1058">27</text>
<text x="307.2" y="1058">28</text>
<text x="368.4" y="1058">29</text>
<text x="429.5" y="1058">30</text>
<text x="490.7" y="1058">31</text>
<text x="551.9" y="1058">4월</text>
<text x="613" y="1058">2</text>
<text x="674.2" y="1058">3</text>
<text x="735.4" y="1058">4</text>
<text x="796.5" y="1058">5</text>
<text x="857.7" y="1058">6</text>
<text x="918.9" y="1058">7</text>
<text x="980.1" y="1058">8</text>
<text x="1041.2" y="1058">9</text>
<text x="1102.4" y="1058">10</text>
<text x="1163.6" y="1058">11</text>
<text x="1224.7" y="1058">12</text>
<text x="1285.9" y="1058">13</text>
<text x="1347.1" y="1058">14</text>
<text x="1408.2" y="1058">15</text>
<text x="1469.4" y="1058">16</text>
<text x="1530.6" y="1058">17</text>
<text x="1591.8" y="1058">18</text>
<text x="1652.9" y="1058">19</text>
<text x="1714.1" y="1058">20</text>
</g>
<g fill="#131722">
<path d="M12,1090 H23.4 V1105.2 H18 V1095.4 H12 Z"/>
<circle cx="28.9" cy="1092.7" r="2.5"/>
<path d="M32.7,1090 H41.4 L36,1105.2 H29.4 Z"/>
</g>
<text x="49" y="1105" font-size="21" font-weight="bold" fill="#131722" letter-spacing="-0.3">TradingView</text>
</svg></body></html>
